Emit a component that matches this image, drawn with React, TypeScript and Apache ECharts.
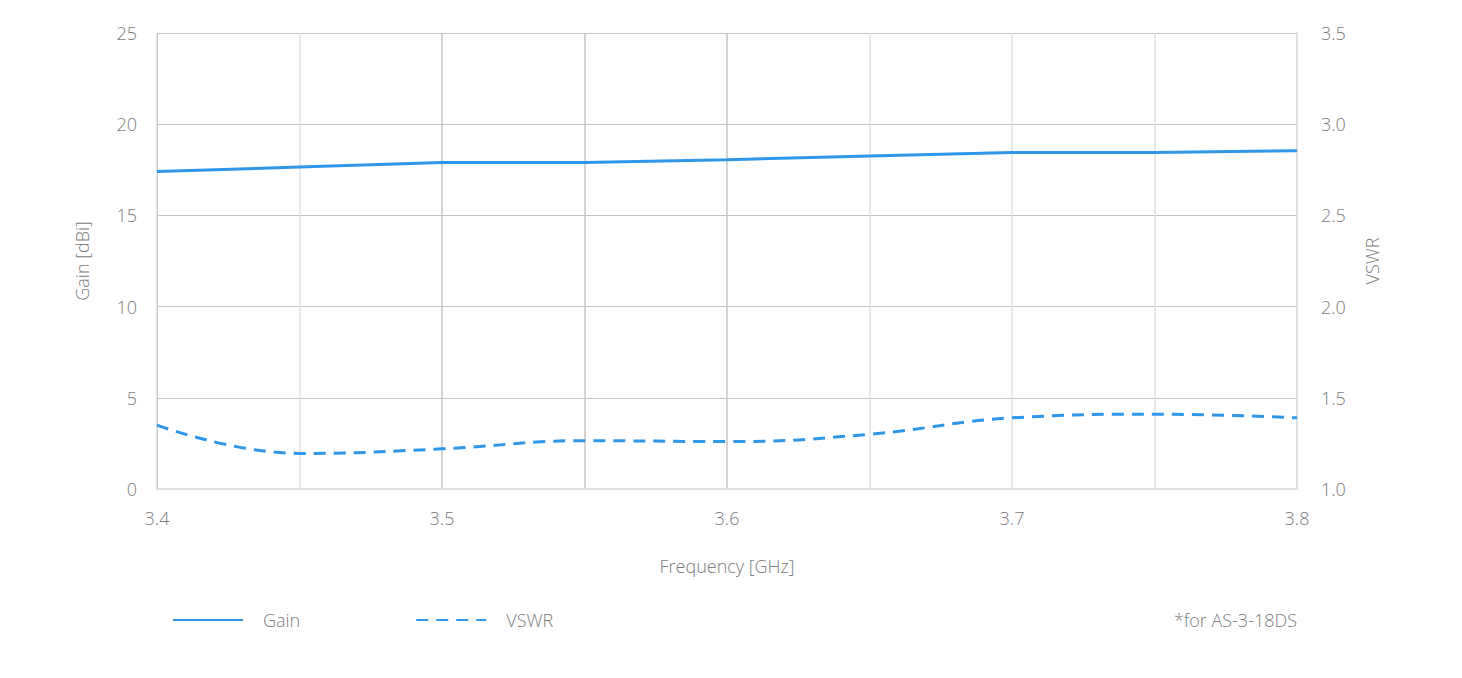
import React, { useEffect, useRef } from "react";
import * as echarts from "echarts";

const freq = [3.4, 3.45, 3.5, 3.55, 3.6, 3.65, 3.7, 3.75, 3.8];
const gain = [17.4, 17.65, 17.9, 17.9, 18.05, 18.25, 18.45, 18.45, 18.55];
const vswr = [1.35, 1.195, 1.22, 1.265, 1.26, 1.3, 1.39, 1.41, 1.39];
const gainTicks = [0, 5, 10, 15, 20, 25];
const vswrTicks = [1.0, 1.5, 2.0, 2.5, 3.0, 3.5];
const footnote = "*for AS-3-18DS";

const FONT = "'Open Sans', 'Noto Sans', sans-serif";
const W = 300;
const TEXT = "#7c7c7c";
const BLUE = "#3097e8";
const DARK = "#c4c4c4";
const LIGHT = "#e0e0e0";

export default function App() {
  const ref = useRef<HTMLDivElement>(null);
  useEffect(() => {
    if (!ref.current) return;
    const chart = echarts.init(ref.current, undefined, { renderer: "svg" });
    const ts = { fontSize: 18, color: TEXT, fontFamily: FONT, fontWeight: W };
    chart.setOption({
      animation: false,
      backgroundColor: "#ffffff",
      textStyle: { fontFamily: FONT },
      grid: { left: 157, right: 165, top: 33, bottom: 189, containLabel: false },
      legend: {
        data: ["Gain", "VSWR"],
        left: 172,
        top: 611,
        padding: 0,
        itemWidth: 70,
        itemHeight: 14,
        itemGap: 115,
        itemStyle: { opacity: 0 },
        textStyle: { ...ts, padding: [0, 0, 0, 15] },
      },
      xAxis: {
        type: "value",
        min: 3.4,
        max: 3.8,
        interval: 0.05,
        name: "Frequency [GHz]",
        nameLocation: "middle",
        nameGap: 68,
        nameTextStyle: ts,
        axisLine: { show: true, lineStyle: { color: LIGHT, width: 2 } },
        axisTick: { show: false },
        axisLabel: {
          ...ts,
          margin: 20,
          formatter: (v: number) => {
            const t = v * 10;
            return Math.abs(t - Math.round(t)) < 1e-6 ? v.toFixed(1) : "";
          },
        },
        splitLine: {
          show: true,
          lineStyle: {
            color: [LIGHT, LIGHT, DARK, DARK, DARK, LIGHT, LIGHT, LIGHT, LIGHT],
            width: 1.5,
          },
        },
      },
      yAxis: [
        {
          type: "value",
          min: gainTicks[0],
          max: gainTicks[gainTicks.length - 1],
          interval: 5,
          name: "Gain [dBi]",
          nameLocation: "middle",
          nameGap: 66,
          nameTextStyle: ts,
          axisLine: { show: true, lineStyle: { color: DARK, width: 1 } },
          axisTick: { show: false },
          axisLabel: { ...ts, margin: 20, padding: [8, 0, 0, 0] },
          splitLine: { show: true, lineStyle: { color: DARK, width: 1 } },
        },
        {
          type: "value",
          position: "right",
          min: vswrTicks[0],
          max: vswrTicks[vswrTicks.length - 1],
          interval: 0.5,
          name: "VSWR",
          nameLocation: "middle",
          nameGap: 66,
          nameTextStyle: ts,
          axisLine: { show: true, lineStyle: { color: LIGHT, width: 2 } },
          axisTick: { show: false },
          axisLabel: {
            ...ts,
            margin: 24,
            padding: [8, 0, 0, 0],
            formatter: (v: number) => v.toFixed(1),
          },
          splitLine: { show: false },
        },
      ],
      series: [
        {
          name: "Gain",
          type: "line",
          yAxisIndex: 0,
          data: freq.map((f, i) => [f, gain[i]]),
          symbol: "none",
          lineStyle: { color: BLUE, width: 3 },
          itemStyle: { color: BLUE },
        },
        {
          name: "VSWR",
          type: "line",
          yAxisIndex: 1,
          smooth: 0.45,
          data: freq.map((f, i) => [f, vswr[i]]),
          symbol: "none",
          lineStyle: { color: BLUE, width: 3, type: [12, 8] },
          itemStyle: { color: BLUE },
        },
      ],
      graphic: [
        {
          type: "text",
          x: 1297,
          y: 620,
          style: {
            text: footnote,
            fill: TEXT,
            font: `${W} 18px ${FONT}`,
            align: "right",
            verticalAlign: "middle",
          },
        },
      ],
    });
    return () => chart.dispose();
  }, []);
  return (
    <div
      ref={ref}
      style={{ position: "fixed", left: 0, top: 0, width: 1462, height: 678 }}
    />
  );
}
